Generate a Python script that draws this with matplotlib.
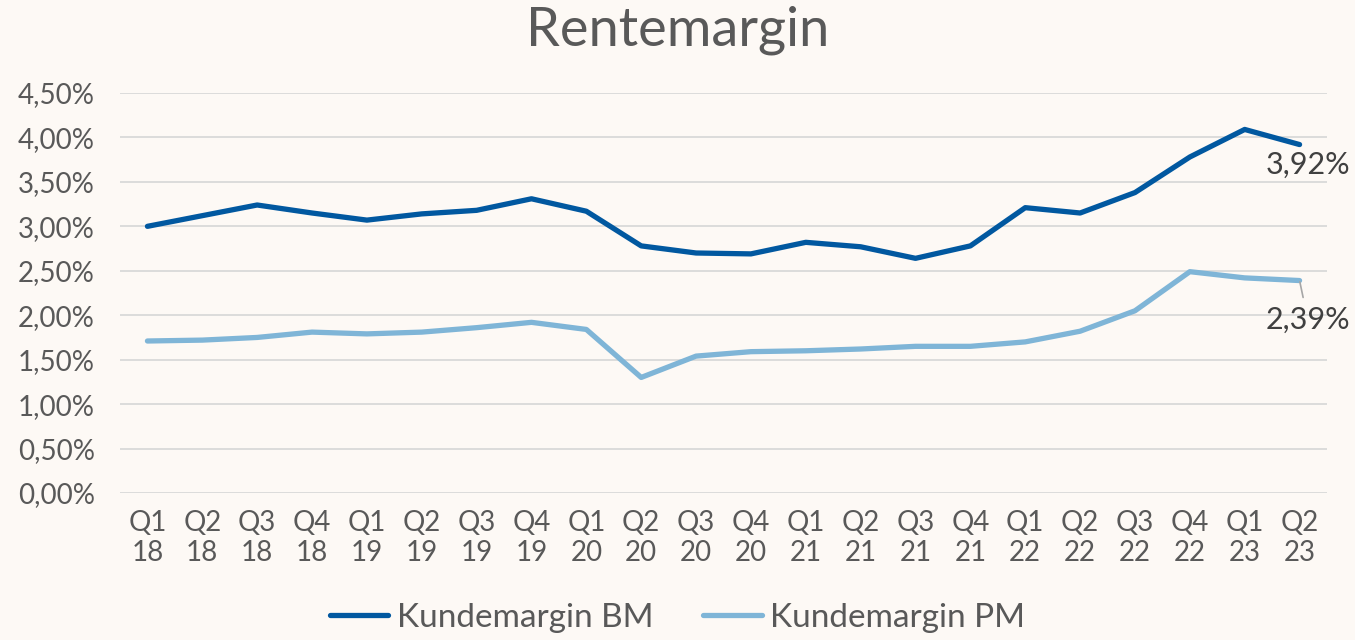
import matplotlib
matplotlib.use("Agg")
import matplotlib.pyplot as plt
from matplotlib.ticker import FuncFormatter

categories = ["Q1\n18", "Q2\n18", "Q3\n18", "Q4\n18", "Q1\n19", "Q2\n19", "Q3\n19", "Q4\n19",
              "Q1\n20", "Q2\n20", "Q3\n20", "Q4\n20", "Q1\n21", "Q2\n21", "Q3\n21", "Q4\n21",
              "Q1\n22", "Q2\n22", "Q3\n22", "Q4\n22", "Q1\n23", "Q2\n23"]
bm = [3.00, 3.12, 3.24, 3.15, 3.07, 3.14, 3.18, 3.31, 3.17, 2.78, 2.70, 2.69,
      2.82, 2.77, 2.64, 2.78, 3.21, 3.15, 3.38, 3.78, 4.09, 3.92]
pm = [1.71, 1.72, 1.75, 1.81, 1.79, 1.81, 1.86, 1.92, 1.84, 1.30, 1.54, 1.59,
      1.60, 1.62, 1.65, 1.65, 1.70, 1.82, 2.05, 2.49, 2.42, 2.39]
series_names = ["Kundemargin BM", "Kundemargin PM"]
yticks = [0, 0.5, 1.0, 1.5, 2.0, 2.5, 3.0, 3.5, 4.0, 4.5]

plt.rcParams['font.family'] = ['Lato', 'DejaVu Sans']
bg = "#FDF9F5"
txt = "#595959"
c_bm = "#0158A0"
c_pm = "#7FB5D7"

fig = plt.figure(figsize=(13.55, 6.4), dpi=100, facecolor=bg)
ax = fig.add_axes([120/1355, 1-493/640, (1327-120)/1355, 400/640])
ax.set_facecolor(bg)

x = list(range(len(categories)))
ax.plot(x, bm, color=c_bm, lw=3.8, solid_capstyle='round', solid_joinstyle='round', label=series_names[0], zorder=3)
ax.plot(x, pm, color=c_pm, lw=3.8, solid_capstyle='round', solid_joinstyle='round', label=series_names[1], zorder=3)

ax.set_xlim(-0.5, len(categories) - 0.5)
ax.set_ylim(0, 4.5)
ax.set_yticks(yticks)
ax.yaxis.set_major_formatter(FuncFormatter(lambda v, p: f"{v:.2f}%".replace(".", ",")))
ax.set_xticks(x)
ax.set_xticklabels(categories, linespacing=1.2)
ax.tick_params(axis='both', length=0, colors=txt, labelsize=20)
ax.tick_params(axis='x', pad=12)
ax.tick_params(axis='y', pad=18)
for lbl in ax.get_yticklabels():
    lbl.set_horizontalalignment('right')
ax.grid(axis='y', color="#D9D9D9", lw=1.3, zorder=0)
for s in ax.spines.values():
    s.set_visible(False)

# data labels
ax.annotate(f"{bm[-1]:.2f}%".replace(".", ","), xy=(x[-1], bm[-1]), xytext=(x[-1] + 0.15, bm[-1] - 0.23),
            ha='center', va='center', fontsize=22, color="#404040")
ax.annotate(f"{pm[-1]:.2f}%".replace(".", ","), xy=(x[-1], pm[-1]), xytext=(x[-1] + 0.15, pm[-1] - 0.44),
            ha='center', va='center', fontsize=22, color="#404040",
            arrowprops=dict(arrowstyle='-', color="#A6A6A6", lw=1.2, shrinkA=4, shrinkB=1))

fig.text(0.5, 1 - 30/640, "Rentemargin", ha='center', va='center', fontsize=39, color=txt)

leg = fig.legend(loc='center', bbox_to_anchor=(0.5, 1 - 618/640), ncol=2, frameon=False,
                 fontsize=24, handlelength=1.75, columnspacing=1.5, handletextpad=0.25)
for t in leg.get_texts():
    t.set_color(txt)

fig.savefig("out.png", dpi=100, facecolor=bg)
